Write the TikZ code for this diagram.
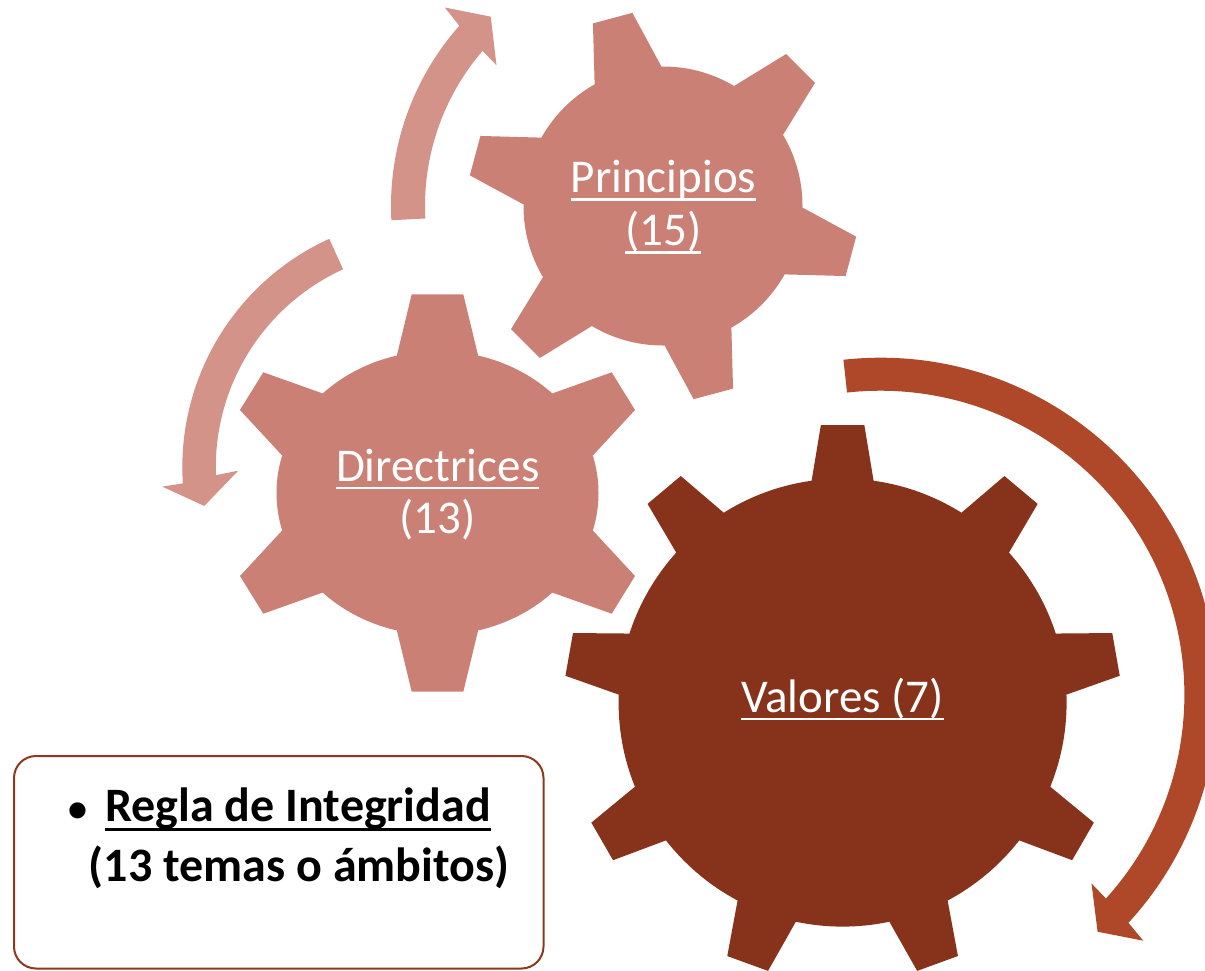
\documentclass[tikz,border=0pt]{standalone}
\usepackage{fontspec}
\setmainfont{Carlito}
\definecolor{gearpink}{RGB}{203,128,117}
\definecolor{arrowlight}{RGB}{211,147,137}
\definecolor{valorescol}{RGB}{135,51,27}
\definecolor{arrowdark}{RGB}{174,72,40}
\definecolor{boxbrown}{RGB}{140,56,30}
\newcommand\myul[1]{\setbox0=\hbox{#1}\rlap{\rule[-4pt]{\wd0}{1.2pt}}\box0}
\newcommand\myulb[1]{\setbox0=\hbox{#1}\rlap{\rule[-4.6pt]{\wd0}{1.5pt}}\box0}
\begin{document}
\begin{tikzpicture}[x=0.5pt,y=0.5pt,
  gtext/.style={text=white, font=\fontsize{23.5}{28}\selectfont, inner sep=0pt, anchor=base},
  btext/.style={text=black, font=\fontsize{24}{29}\selectfont\bfseries, inner sep=0pt, anchor=base west},
  textbox/.style={draw=boxbrown, line width=1pt, rounded corners=11pt, fill=white}]
\useasboundingbox (0,0) rectangle (1205,-970);
\clip (0,0) rectangle (1205,-970);

% Principios gear
\begin{scope}[shift={(663,-206)}]
  \fill[gearpink] (0,0) circle[radius=139.5];
  \foreach \a in {-15,45,...,285}
    \fill[gearpink,rotate=\a] (0,0) -- (135.5,-34.5) -- (194.5,-20.4) -- (194.5,20.4) -- (135.5,34.5) -- cycle;
\end{scope}

% Directrices gear
\begin{scope}[shift={(437.5,-493)}]
  \fill[gearpink] (0,0) ellipse[x radius=161, y radius=142];
  \fill[gearpink] (0,0) -- (-40.5,138) -- (-25.8,198.7) -- (25.8,198.7) -- (40.5,138) -- cycle;
  \fill[gearpink] (0,0) -- (-40.5,-138) -- (-25.8,-198.7) -- (25.8,-198.7) -- (40.5,-138) -- cycle;
  \fill[gearpink] (0,0) -- (115.2,99.7) -- (174.2,120.7) -- (197.5,83) -- (155.8,38) -- cycle;
  \fill[gearpink] (0,0) -- (155.8,-38) -- (197.5,-83) -- (174.2,-120.7) -- (115.2,-99.7) -- cycle;
  \fill[gearpink] (0,0) -- (-115.2,-99.7) -- (-174.2,-120.7) -- (-197.5,-83) -- (-155.8,-38) -- cycle;
  \fill[gearpink] (0,0) -- (-155.8,38) -- (-197.5,83) -- (-174.2,120.7) -- (-115.2,99.7) -- cycle;
\end{scope}

% Valores gear
\begin{scope}[shift={(842.6,-702.6)}]
  \fill[valorescol] (0,0) circle[radius=224];
  \foreach \a in {10,50,...,330}
    \fill[valorescol,rotate=\a] (0,0) -- (221.9,-31) -- (277.6,-21.7) -- (277.6,21.7) -- (221.9,31) -- cycle;
\end{scope}

% Arrow around Principios
\begin{scope}[shift={(663,-206)}]
  \fill[arrowlight] (183:272) arc[start angle=183, end angle=138.5, radius=272]
    -- (137.7:295) -- (132.3:256) -- (139.8:218) -- (139.3:238)
    arc[start angle=139.3, end angle=183, radius=238] -- cycle;
\end{scope}

% Arrow around Directrices
\begin{scope}[shift={(433.3,-467.2)}]
  \fill[arrowlight] (114.5:251) arc[start angle=114.5, end angle=183.7, radius=251]
    -- (184.1:271.7) -- (189.6:232.3) -- (181:195) -- (182.1:217.5)
    arc[start angle=182.1, end angle=114.5, radius=217.5] -- cycle;
\end{scope}

% Arrow around Valores
\begin{scope}[shift={(880.4,-694.7)}]
  \fill[arrowdark] (96.3:337) arc[start angle=96.3, end angle=-42.6, radius=337]
    -- (-43.1:360) -- (-47.5:321.5) -- (-41.8:283.2) -- (-42.1:304)
    arc[start angle=-42.1, end angle=96.3, radius=304] -- cycle;
\end{scope}

% Labels
\node[gtext] (princA) at (663.5,-192.7) {\myul{Principios}};
\node[gtext] (princB) at (663.3,-245.7) {\myul{(15)}};
\node[gtext] (direcA) at (437.7,-481) {\myul{Directrices}};
\node[gtext] (direcB) at (437.5,-533.3) {(13)};
\node[gtext] (valores) at (842.5,-712) {\myul{Valores (7)}};

% Text box
\draw[textbox] (14,-756) rectangle (543.5,-968.5);
\node[btext] (reglaA) at (105,-821.7) {\llap{\fontsize{19}{20}\selectfont\textbullet\hspace{9pt}}\myulb{Regla de Integridad}};
\node[btext] (reglaB) at (88.5,-881.7) {(13 temas o ámbitos)};
\end{tikzpicture}
\end{document}
